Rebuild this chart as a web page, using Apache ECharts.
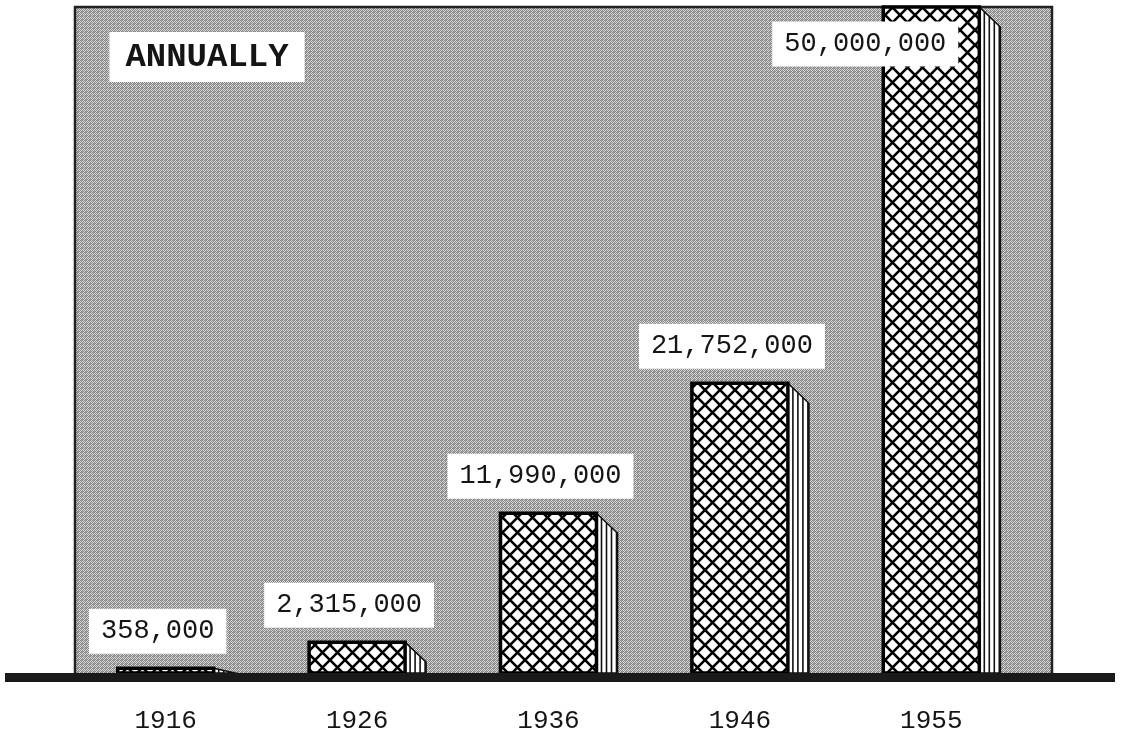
<!DOCTYPE html>
<html>
<head>
<meta charset="utf-8">
<title>Annually</title>
<script src="https://cdn.jsdelivr.net/npm/echarts@6/dist/echarts.min.js"></script>
<style>
  html, body { margin: 0; padding: 0; background: #fff; }
  #chart { width: 1133px; height: 744px; }
</style>
</head>
<body>
<div id="chart"></div>
<script>
const years = ['1916', '1926', '1936', '1946', '1955'];
const totals = [358000, 2315000, 11990000, 21752000, 50000000];
const valueLabels = ['358,000', '2,315,000', '11,990,000', '21,752,000', '50,000,000'];

function makeTile(size, draw) {
  const c = document.createElement('canvas');
  c.width = size;
  c.height = size;
  draw(c.getContext('2d'), size);
  return c;
}

// crosshatch for the bar faces
const hatch = makeTile(15, (ctx, s) => {
  ctx.fillStyle = '#fff';
  ctx.fillRect(0, 0, s, s);
  ctx.strokeStyle = '#000';
  ctx.lineWidth = 2.6;
  ctx.beginPath();
  ctx.moveTo(0, 0); ctx.lineTo(s, s);
  ctx.moveTo(s, 0); ctx.lineTo(0, s);
  ctx.stroke();
});

// grey stipple behind the bars
const stipple = makeTile(4, (ctx) => {
  ctx.fillStyle = '#dadada';
  ctx.fillRect(0, 0, 4, 4);
  ctx.fillStyle = '#858585';
  [[0, 0], [2, 0], [1, 1], [3, 1], [0, 2], [2, 2], [1, 3], [3, 3]].forEach(p => ctx.fillRect(p[0], p[1], 1, 1));
  ctx.fillStyle = '#a0a0a0';
  ctx.fillRect(1, 0, 1, 1);
  ctx.fillRect(2, 3, 1, 1);
});

const labelFont = '27px "Liberation Mono", "DejaVu Sans Mono", monospace';

function renderBar(params, api) {
  const i = api.value(0);
  const top = api.coord([i, api.value(1)]);
  const base = api.coord([i, 0]);
  const w = 96, side = 21;
  const cx = top[0];
  const x0 = cx - w / 2, x1 = cx + w / 2;
  const y0 = top[1], y1 = base[1];
  const h = y1 - y0;
  const drop = Math.min(side - 1, h);
  const children = [];

  // striped side face
  children.push({
    type: 'polygon',
    shape: { points: [[x1, y0], [x1 + side, y0 + drop], [x1 + side, y1], [x1, y1]] },
    style: { fill: '#fff', stroke: '#111', lineWidth: 1.6 }
  });
  for (let k = 5; k < side; k += 5) {
    children.push({
      type: 'line',
      shape: { x1: x1 + k, y1: y0 + drop * k / side, x2: x1 + k, y2: y1 },
      style: { stroke: '#111', lineWidth: 1.6 }
    });
  }
  // front face
  children.push({
    type: 'rect',
    shape: { x: x0, y: y0, width: w, height: h },
    style: { fill: { image: hatch, repeat: 'repeat' }, stroke: '#000', lineWidth: 3.5 }
  });

  // value label: above the bar, or tucked inside when the bar reaches the top
  let lx = cx - 8, ly = y0 - 37;
  if (y0 < 80) {
    lx = cx - 66;
    ly = y0 + 37;
  }
  children.push({
    type: 'text',
    x: lx,
    y: ly,
    z2: 10,
    style: {
      text: valueLabels[i],
      font: labelFont,
      fill: '#151515',
      backgroundColor: '#fff',
      padding: [9, 12],
      align: 'center',
      verticalAlign: 'middle'
    }
  });
  return { type: 'group', children: children };
}

const chart = echarts.init(document.getElementById('chart'));

chart.setOption({
  animation: false,
  backgroundColor: '#fff',
  grid: { left: 70, right: 106, top: 7, bottom: 71 },
  xAxis: {
    type: 'category',
    data: years,
    axisLine: { show: false },
    axisTick: { show: false },
    axisLabel: {
      margin: 35,
      color: '#151515',
      fontSize: 26,
      fontFamily: '"Liberation Mono", "DejaVu Sans Mono", monospace'
    }
  },
  yAxis: {
    type: 'value',
    min: 0,
    max: 50000000,
    show: false
  },
  graphic: [
    {
      type: 'rect',
      z: 0,
      shape: { x: 75, y: 7, width: 977, height: 668 },
      style: { fill: { image: stipple, repeat: 'repeat' }, stroke: '#222', lineWidth: 2.5 }
    },
    {
      type: 'rect',
      z: 20,
      shape: { x: 5, y: 673, width: 1110, height: 9 },
      style: { fill: '#1a1a1a' }
    },
    {
      type: 'text',
      z: 20,
      x: 207,
      y: 57,
      style: {
        text: 'ANNUALLY',
        font: 'bold 34px "Liberation Mono", "DejaVu Sans Mono", monospace',
        fill: '#151515',
        backgroundColor: '#fff',
        padding: [8, 16],
        align: 'center',
        verticalAlign: 'middle'
      }
    }
  ],
  series: [
    {
      type: 'custom',
      z: 5,
      renderItem: renderBar,
      encode: { x: 0, y: 1 },
      data: totals.map((v, i) => [i, v])
    }
  ]
});
</script>
</body>
</html>
